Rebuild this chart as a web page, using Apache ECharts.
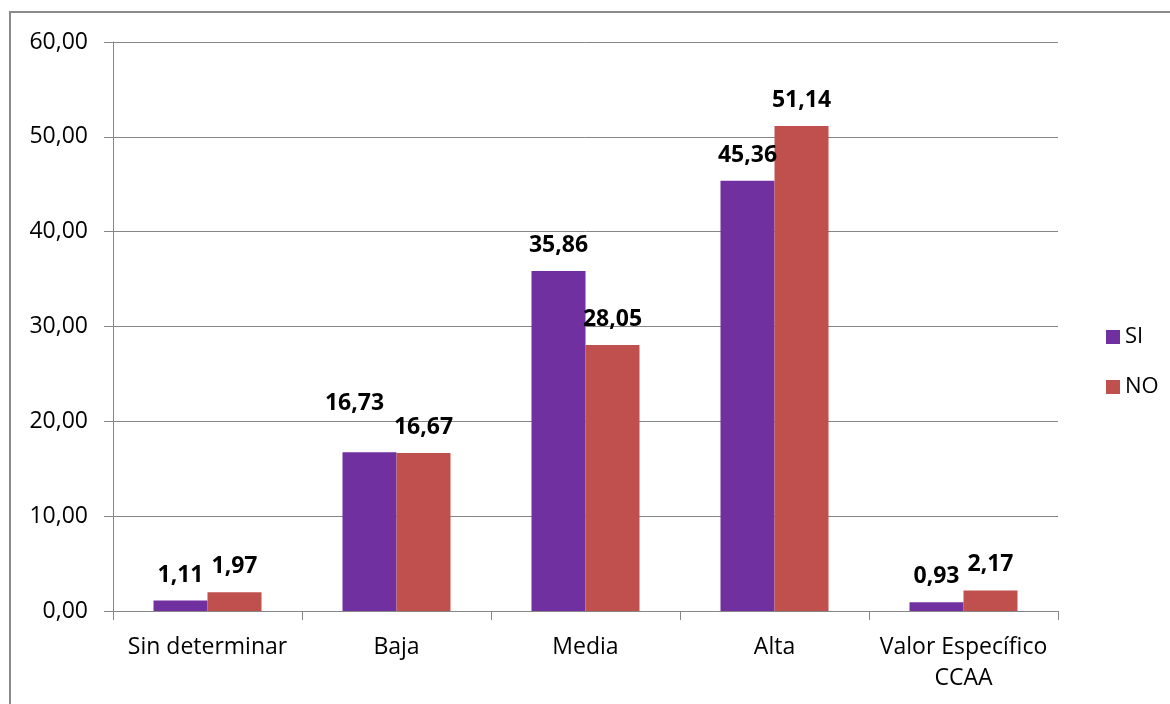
<!DOCTYPE html>
<html>
<head>
<meta charset="utf-8">
<script src="https://cdn.jsdelivr.net/npm/echarts@6/dist/echarts.min.js"></script>
<style>
  html, body { margin: 0; padding: 0; background: #fff; }
  #main { width: 1170px; height: 704px; }
</style>
</head>
<body>
<div id="main"></div>
<script>
// categories and values
const categories = ['Sin determinar', 'Baja', 'Media', 'Alta', 'Valor Específico\nCCAA'];
const siValues = [1.11, 16.73, 35.86, 45.36, 0.93];
const noValues = [1.97, 16.67, 28.05, 51.14, 2.17];
const yTicks = [0, 10, 20, 30, 40, 50, 60];

const FONT = '"Open Sans", "Liberation Sans", sans-serif';

function comma(v) {
    return Number(v).toFixed(2).replace('.', ',');
}

var chartDom = document.getElementById('main');
var myChart = echarts.init(chartDom);

// the 16,73 label sits higher and to the left in the original
const siData = siValues.map((v, i) => {
    if (i == 1) {
        return { value: v, label: { offset: [-15, -23] } };
    }
    return v;
});

const labelStyle = {
    show: true,
    position: 'top',
    distance: 14,
    fontFamily: FONT,
    fontWeight: 'bold',
    fontSize: 23,
    color: '#000',
    formatter: p => comma(p.value)
};

var option = {
    animation: false,
    textStyle: { fontFamily: FONT },
    graphic: [{
        type: 'rect',
        shape: { x: 10, y: 12, width: 1300, height: 900 },
        style: { fill: 'none', stroke: '#8a8a8a', lineWidth: 2 },
        silent: true
    }],
    grid: {
        left: 113,
        right: 112,
        top: 42,
        bottom: 93
    },
    legend: {
        orient: 'vertical',
        left: 1101,
        top: 321,
        itemWidth: 14,
        itemHeight: 14,
        itemGap: 28,
        icon: 'rect',
        data: ['SI', 'NO'],
        textStyle: {
            fontFamily: FONT,
            fontSize: 22,
            color: '#000'
        }
    },
    xAxis: {
        type: 'category',
        data: categories,
        axisLine: { lineStyle: { color: '#868686', width: 1 } },
        axisTick: { show: true, length: 9, lineStyle: { color: '#868686' } },
        axisLabel: {
            fontFamily: FONT,
            fontSize: 23,
            color: '#000',
            lineHeight: 31,
            margin: 21,
            interval: 0
        }
    },
    yAxis: {
        type: 'value',
        min: yTicks[0],
        max: yTicks[yTicks.length - 1],
        interval: 10,
        axisLine: { show: true, lineStyle: { color: '#868686', width: 1 } },
        axisTick: { show: true, length: 9, lineStyle: { color: '#868686' } },
        splitLine: { lineStyle: { color: '#868686', width: 1 } },
        axisLabel: {
            fontFamily: FONT,
            fontSize: 23,
            color: '#000',
            margin: 25,
            formatter: v => comma(v)
        }
    },
    series: [
        {
            name: 'SI',
            type: 'bar',
            data: siData,
            barWidth: 54,
            barGap: '0%',
            itemStyle: { color: '#7030A0' },
            label: labelStyle
        },
        {
            name: 'NO',
            type: 'bar',
            data: noValues,
            barWidth: 54,
            barGap: '0%',
            itemStyle: { color: '#C0504D' },
            label: labelStyle
        }
    ]
};

option && myChart.setOption(option);
</script>
</body>
</html>
